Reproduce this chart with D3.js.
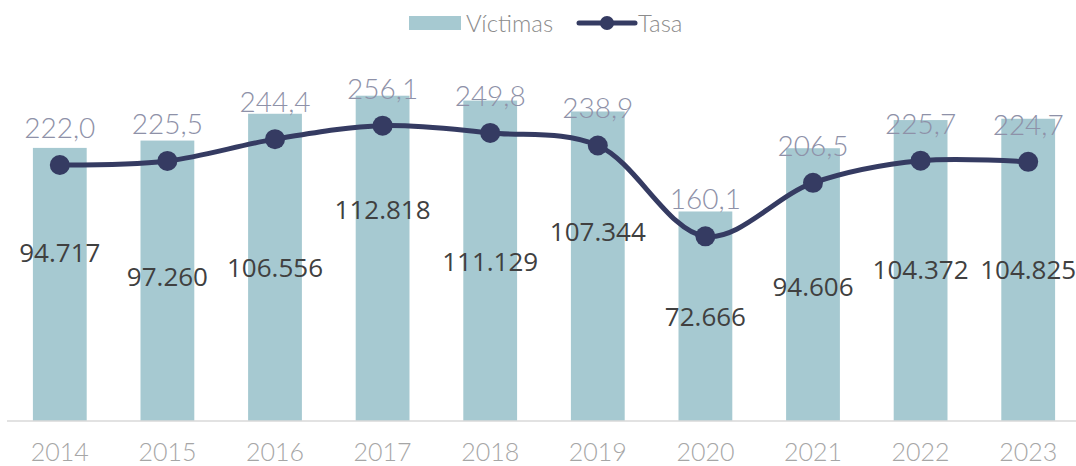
<!DOCTYPE html>
<html>
<head>
<meta charset="utf-8">
<script src="https://cdnjs.cloudflare.com/ajax/libs/d3/7.8.5/d3.min.js"></script>
<style>
  body { margin: 0; background: #fff; }
  svg { display: block; font-family: "Open Sans", sans-serif; }
  .thin { font-family: Lato, "Open Sans", sans-serif; font-weight: 300; }
</style>
</head>
<body>
<svg id="chart"></svg>
<script>
// data
var years = ["2014", "2015", "2016", "2017", "2018", "2019", "2020", "2021", "2022", "2023"];
var victimas = [94717, 97260, 106556, 112818, 111129, 107344, 72666, 94606, 104372, 104825];
var tasa = [222.0, 225.5, 244.4, 256.1, 249.8, 238.9, 160.1, 206.5, 225.7, 224.7];

// labels of the bars were moved by hand in the original, this is how far below the bar top
var labelDrop = [105, 136, 154, 114, 161, 120, 105, 138, 150, 151];

var width = 1076;
var height = 466;
var baseY = 421;

var svg = d3.select("#chart")
  .attr("width", width)
  .attr("height", height);

var x = d3.scaleBand()
  .domain(years)
  .range([6, 1082])
  .paddingInner(0.5)
  .paddingOuter(0.25);

var yBar = d3.scaleLinear()
  .domain([0, 120000])
  .range([baseY, 75]);

var yLine = d3.scaleLinear()
  .domain([0, 300])
  .range([baseY, 75]);

var fmtVict = function(v){ return d3.format(",")(v).replace(/,/g, "."); };
var fmtTasa = function(v){ return d3.format(".1f")(v).replace(".", ","); };

var data = years.map(function(y, i){
  return {year: y, v: victimas[i], t: tasa[i], drop: labelDrop[i]};
});

// bars
svg.append("g")
  .selectAll("rect")
  .data(data)
  .join("rect")
  .attr("x", function(d){ return x(d.year); })
  .attr("width", x.bandwidth())
  .attr("y", function(d){ return yBar(d.v); })
  .attr("height", function(d){ return baseY - yBar(d.v); })
  .attr("fill", "#a6c9d1");

// x axis
var xAxis = svg.append("g")
  .attr("transform", "translate(0," + baseY + ")")
  .call(d3.axisBottom(x).tickSize(0).tickPadding(22));
xAxis.select(".domain").remove();
xAxis.append("line")
  .attr("x1", 7).attr("x2", width)
  .attr("stroke", "#d9d9d9").attr("stroke-width", 1.5);
xAxis.selectAll("text")
  .attr("class", "thin")
  .attr("font-family", null)
  .attr("font-size", 25)
  .attr("fill", "#a6a6a6");

// line
var cx = function(d){ return x(d.year) + x.bandwidth() / 2; };
var line = d3.line()
  .x(cx)
  .y(function(d){ return yLine(d.t); })
  .curve(d3.curveCatmullRom.alpha(0.5));

svg.append("path")
  .datum(data)
  .attr("fill", "none")
  .attr("stroke", "#353b62")
  .attr("stroke-width", 5)
  .attr("d", line);

svg.append("g")
  .selectAll("circle")
  .data(data)
  .join("circle")
  .attr("cx", cx)
  .attr("cy", function(d){ return yLine(d.t); })
  .attr("r", 10)
  .attr("fill", "#353b62");

// tasa labels, above the points
svg.append("g")
  .selectAll("text")
  .data(data)
  .join("text")
  .attr("class", "thin")
  .attr("x", cx)
  .attr("y", function(d){ return yLine(d.t) - 27; })
  .attr("text-anchor", "middle")
  .attr("font-size", 28)
  .attr("fill", "#8e91a8")
  .text(function(d){ return fmtTasa(d.t); });

// victimas labels
svg.append("g")
  .selectAll("text")
  .data(data)
  .join("text")
  .attr("x", cx)
  .attr("y", function(d){ return yBar(d.v) + d.drop; })
  .attr("dy", "0.36em")
  .attr("text-anchor", "middle")
  .attr("font-size", 26)
  .attr("fill", "#404040")
  .text(function(d){ return fmtVict(d.v); });

// legend
var legend = svg.append("g");
legend.append("rect")
  .attr("x", 409).attr("y", 16)
  .attr("width", 52).attr("height", 14)
  .attr("fill", "#a6c9d1");
legend.append("text")
  .attr("class", "thin")
  .attr("x", 466).attr("y", 32)
  .attr("font-size", 24)
  .attr("fill", "#8c8c8c")
  .text("Víctimas");
legend.append("line")
  .attr("x1", 579).attr("x2", 635)
  .attr("y1", 23).attr("y2", 23)
  .attr("stroke", "#353b62").attr("stroke-width", 5)
  .attr("stroke-linecap", "round");
legend.append("circle")
  .attr("cx", 607).attr("cy", 23).attr("r", 7)
  .attr("fill", "#353b62");
legend.append("text")
  .attr("class", "thin")
  .attr("x", 638).attr("y", 32)
  .attr("font-size", 24)
  .attr("fill", "#8c8c8c")
  .text("Tasa");
</script>
</body>
</html>
